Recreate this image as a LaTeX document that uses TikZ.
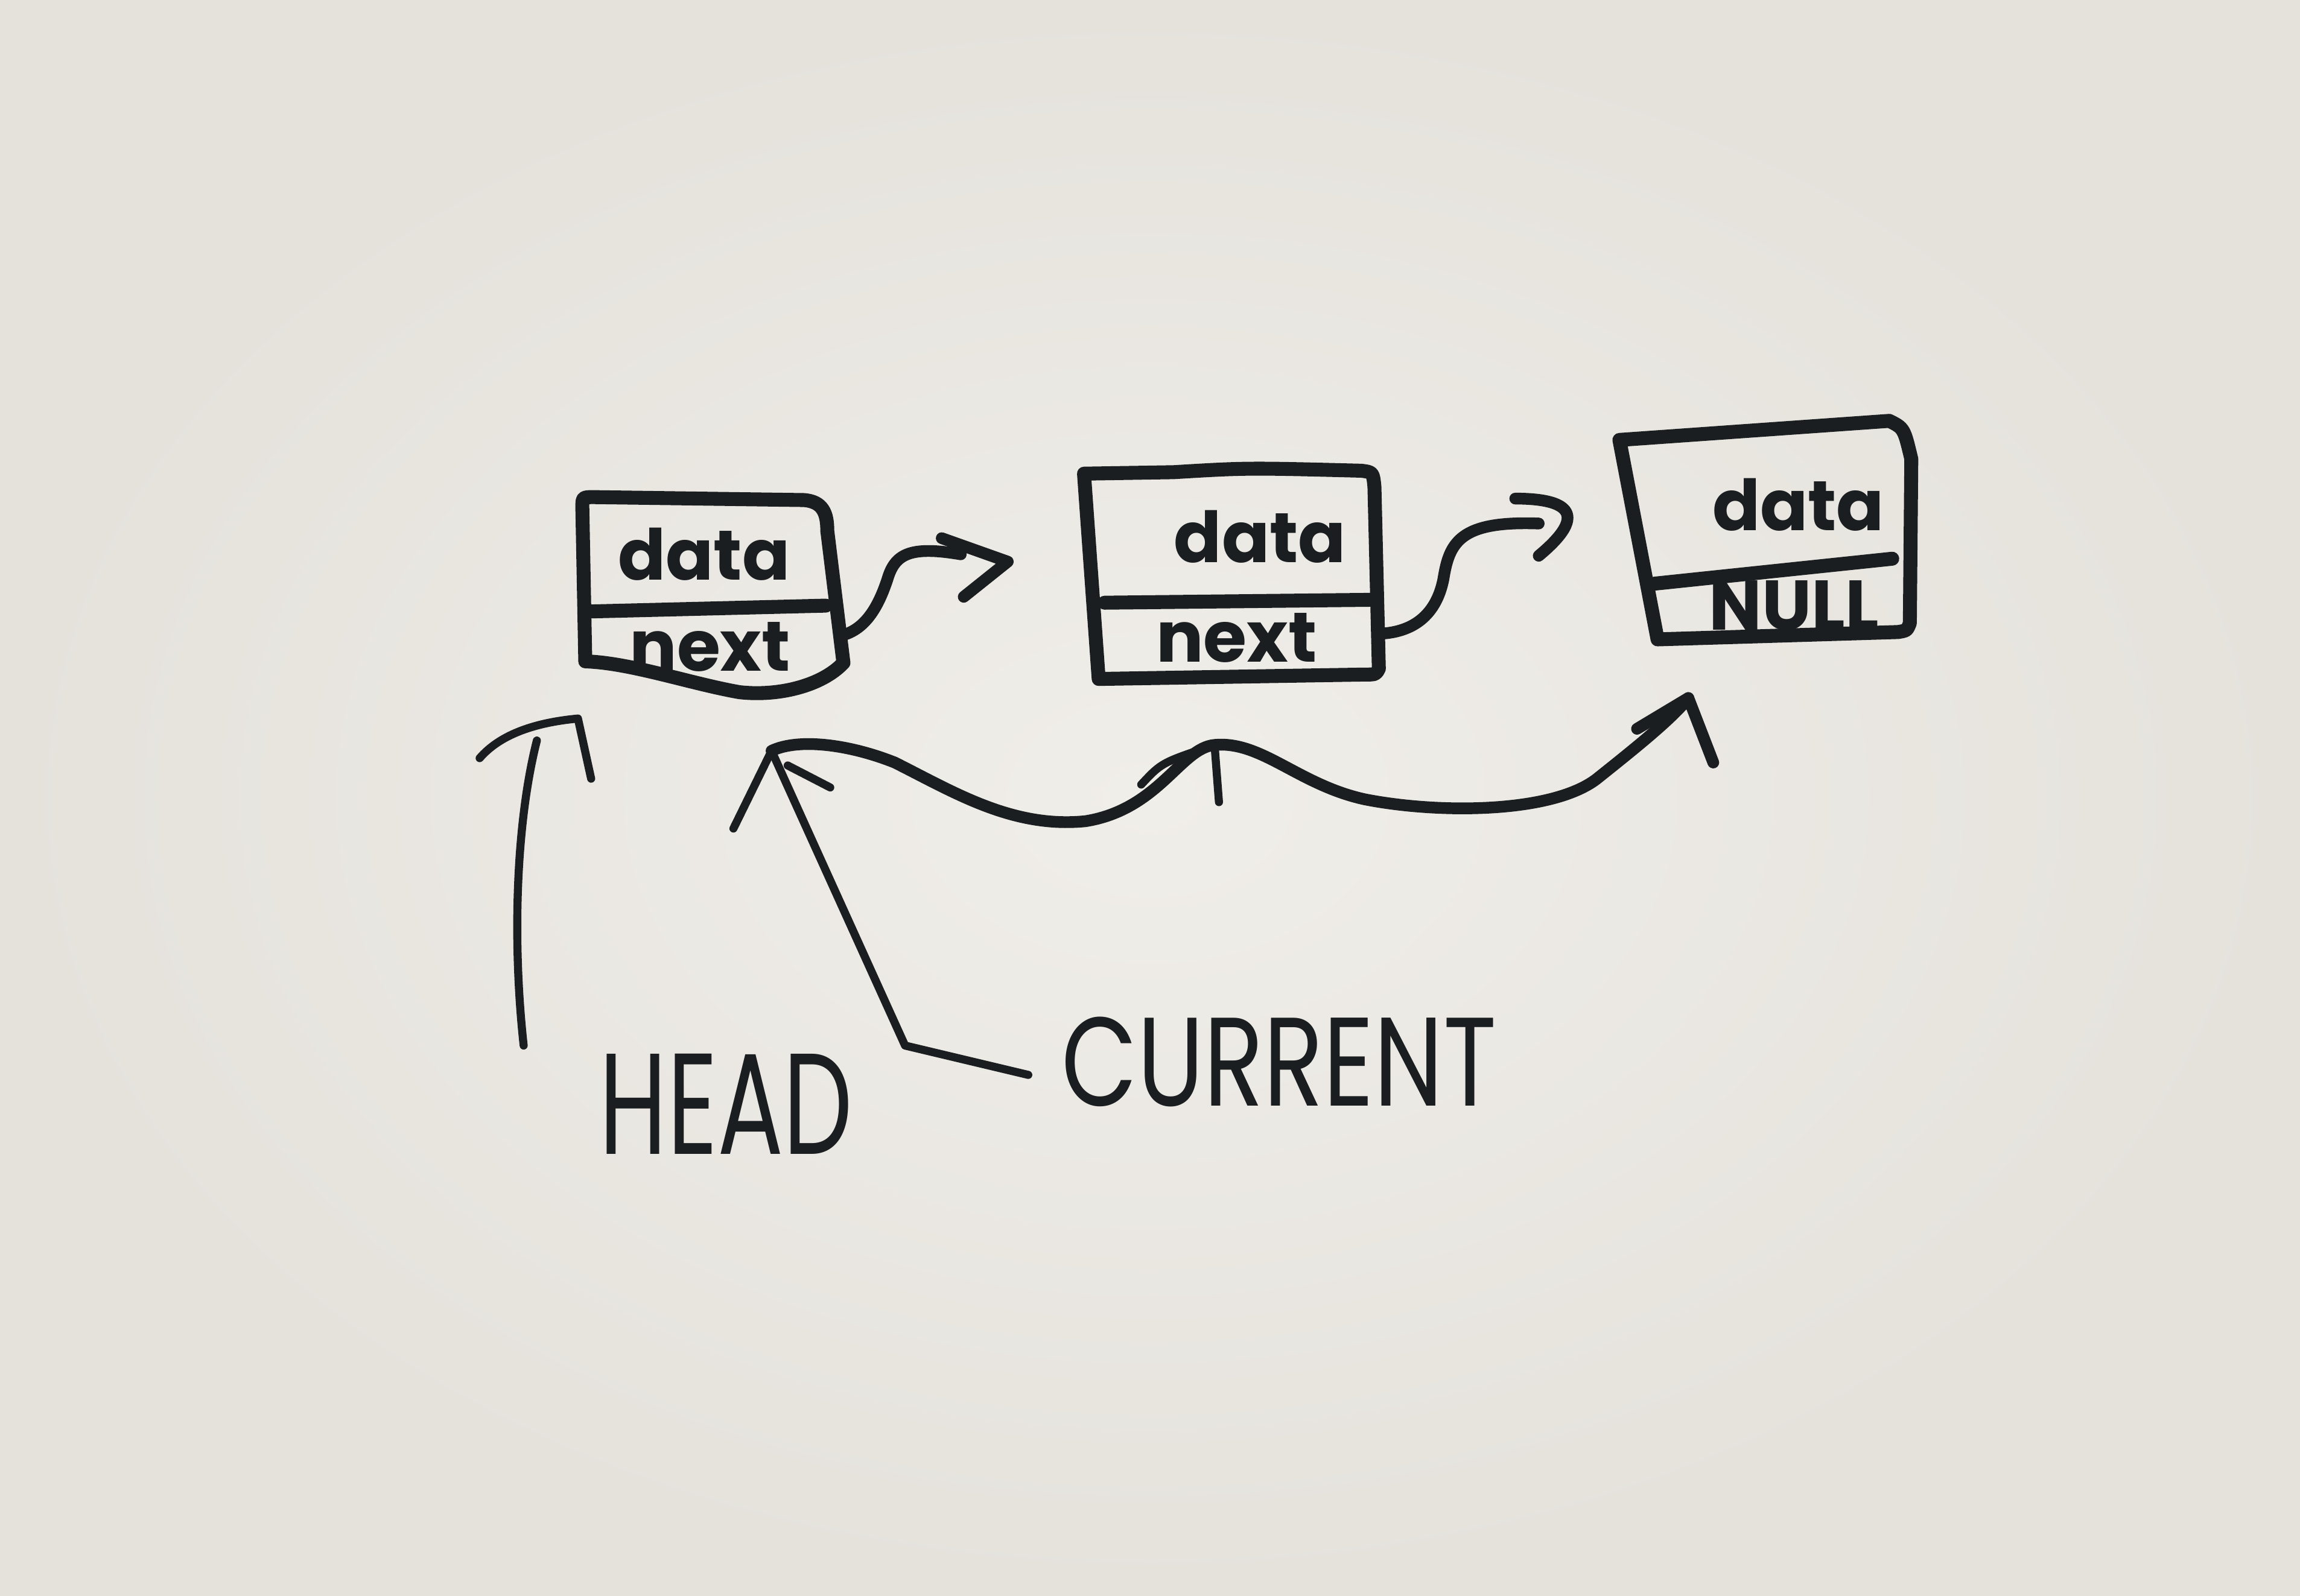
\documentclass[tikz,border=0pt]{standalone}
\usepackage{fontspec}
\setmainfont{Poppins}
\definecolor{paper}{RGB}{240,238,233}
\definecolor{paperdark}{RGB}{229,226,220}
\definecolor{ink}{RGB}{26,30,32}
\begin{document}
\begin{tikzpicture}[x=1pt,y=-1pt, line cap=round, line join=round,
 box/.style={draw=ink, line width=9.5pt},
 link/.style={draw=ink, line width=8pt},
 pointer/.style={draw=ink, line width=5.5pt},
 field/.style={text=ink, font=\fontsize{48}{50}\selectfont\bfseries, inner sep=0pt},
 label/.style={text=ink, inner sep=0pt}]
\shade[inner color=paper, outer color=paperdark] (0,0) rectangle (1568,1088);
\useasboundingbox (0,0) rectangle (1568,1088);
% ---- box 1
\draw[box] (399,451) -- (397,346) .. controls (397,339) .. (405,339) -- (548,341)
  .. controls (561,342) and (564,350) .. (564,362) -- (575,452)
  .. controls (560,468) and (530,475) .. (504,472)
  .. controls (470,466) and (430,452) .. cycle;
\draw[box] (401,417) -- (563,413);
% ---- box 2
\draw[box] (739,323) -- (800,322) .. controls (850,319) .. (928,321)
  .. controls (936,322) .. (937,332) -- (940,456) .. controls (938,460) .. (930,460)
  -- (749,463) -- cycle;
\draw[box] (753,411) -- (937,409);
% ---- box 3
\draw[box] (1104,300) -- (1288,287) .. controls (1298,292) .. (1303,313)
  -- (1302,425) .. controls (1300,430) .. (1294,431) -- (1130,436) -- cycle;
\draw[box] (1128,398) -- (1290,381);
% ---- texts
\node[field] (d1) at (480,378) {data};
\node[field] (n1) at (484,441) {next};
\node[field] (d2) at (859,366) {data};
\node[field] (n2) at (843,435) {next};
\node[field] (d3) at (1226,344) {data};
\node[field] (n3) at (1223,413) {NULL};
\node[label, font=\fontsize{98}{100}\selectfont\addfontfeatures{FakeStretch=0.68}] (head) at (495,753) {HEAD};
\node[label, font=\fontsize{86}{90}\selectfont\addfontfeatures{FakeStretch=0.78}] (cur) at (872,724) {CURRENT};
% ---- named ends
\coordinate (n1out) at (575,433);
\coordinate (tip1) at (687,383);
\coordinate (n2out) at (943,432);
\coordinate (tip2) at (1075,347);
\coordinate (headtail) at (357,713);
\coordinate (headtip) at (394,490);
\coordinate (curtail) at (701,733);
\coordinate (curbend) at (617,713);
\coordinate (curtip) at (526,512);
\coordinate (mid) at (828,508);
\coordinate (last) at (1151,476);
% ---- next links
\draw[link] (n1out) .. controls (592,428) and (600,410) .. (605,395)
  .. controls (610,378) and (620,372) .. (655,378);
\draw[link] (642,367) -- (tip1) -- (657,407);
\draw[link] (n2out) .. controls (968,430) and (980,415) .. (984,395)
  .. controls (988,370) and (995,355) .. (1049,357);
\draw[link] (1033,340) .. controls (1058,340) and (1090,345) .. (1049,379);
% ---- HEAD pointer
\draw[pointer] (headtail) .. controls (349,640) and (352,560) .. (366,505);
\draw[pointer] (327,517) .. controls (340,502) and (362,493) .. (headtip) -- (403,531);
% ---- CURRENT pointer
\draw[pointer] (curtail) -- (curbend) -- (curtip);
\draw[pointer] (500,565) -- (curtip);
\draw[pointer] (537,522) -- (566,537);
\draw[link] (curtip) .. controls (545,503) and (580,508) .. (610,520)
  .. controls (650,540) and (690,565) .. (740,560)
  .. controls (790,552) and (805,510) .. (mid)
  .. controls (860,505) and (885,535) .. (930,545)
  .. controls (980,555) and (1060,555) .. (1090,530)
  .. controls (1115,510) and (1140,490) .. (last);
\draw[pointer] (778,535) .. controls (792,520) .. (mid) -- (831,547);
\draw[link] (1116,497) -- (last) -- (1168,520);
\end{tikzpicture}
\end{document}
